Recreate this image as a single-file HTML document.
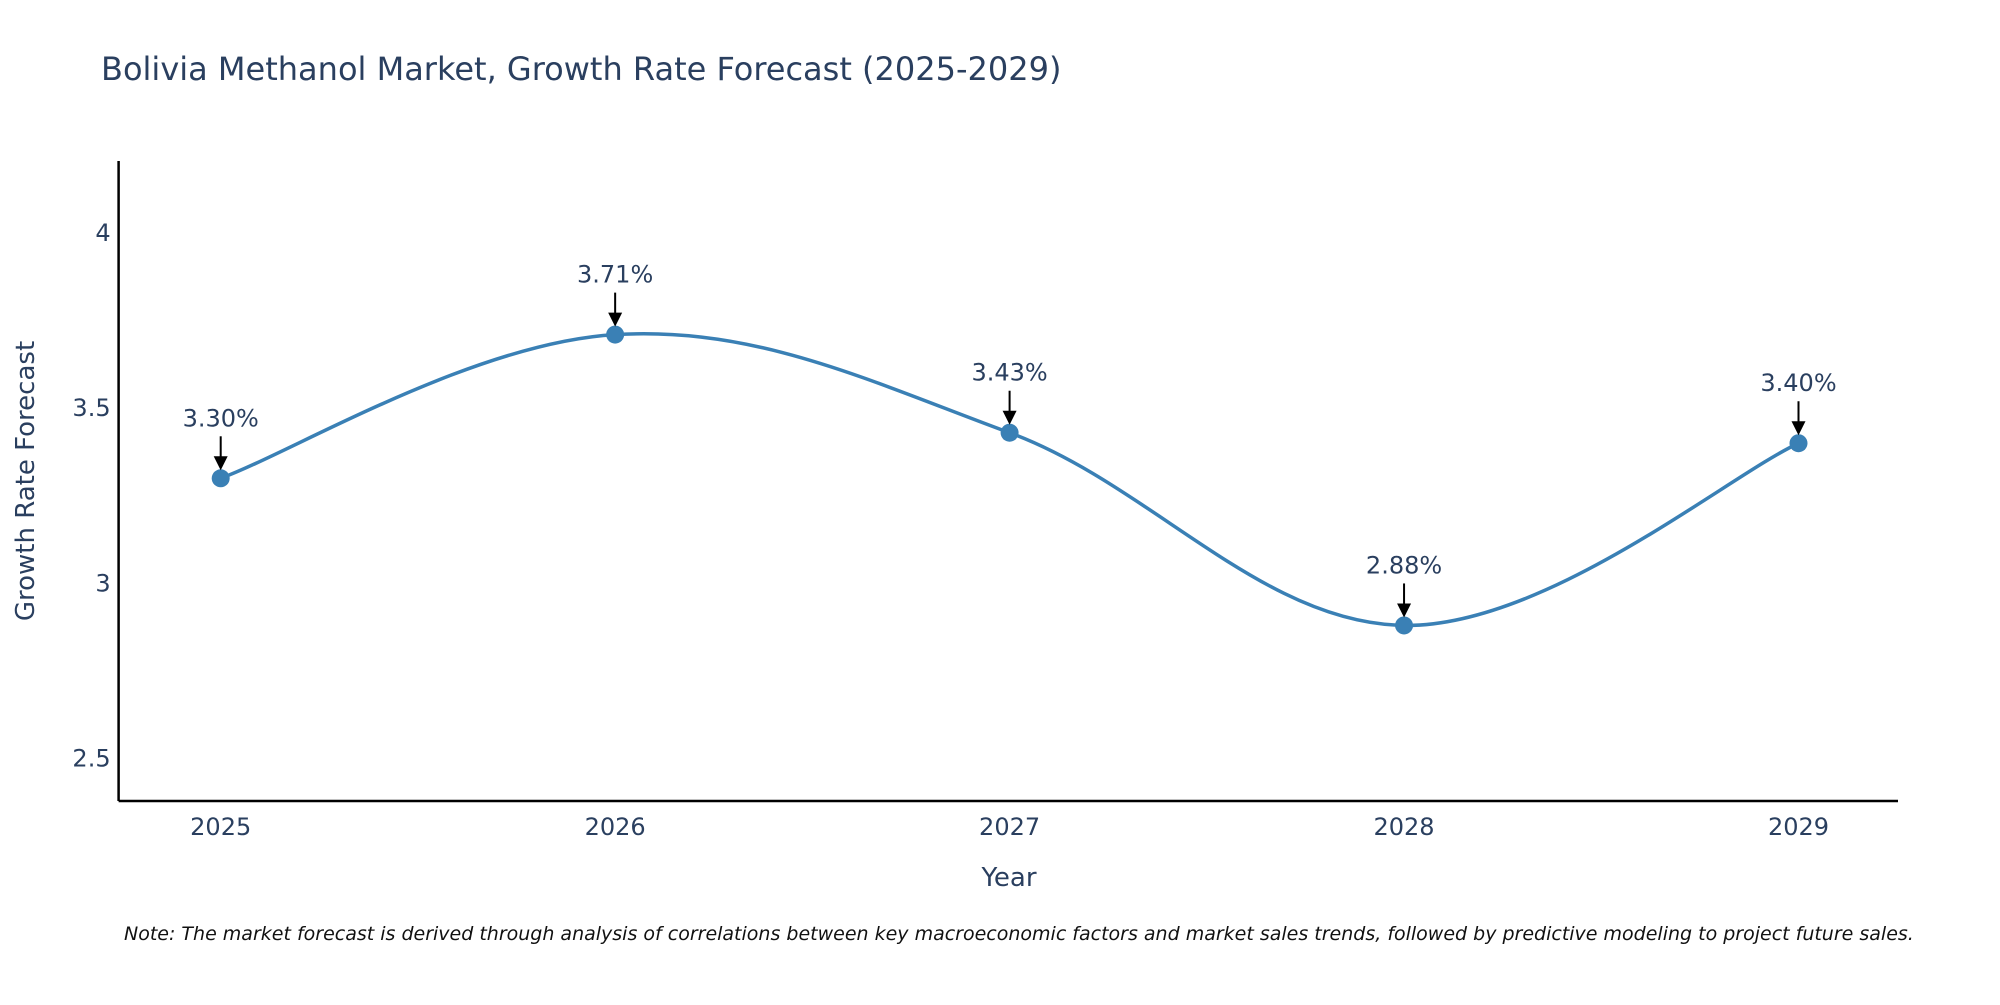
<!DOCTYPE html>
<html><head><meta charset="utf-8"><style>
body{margin:0;background:#fff;}
svg text{font-family:"DejaVu Sans","Liberation Sans",sans-serif;}
</style></head><body>
<svg id="chart" width="2000" height="1000" xmlns="http://www.w3.org/2000/svg">
<text x="101" y="80" font-size="32" fill="#2a3f5f">Bolivia Methanol Market, Growth Rate Forecast (2025-2029)</text>
<g id="axes"></g>
<g id="marks"></g>
<text x="1009" y="886" font-size="26" fill="#2a3f5f" text-anchor="middle">Year</text>
<text transform="translate(34,481) rotate(-90)" font-size="26" fill="#2a3f5f" text-anchor="middle">Growth Rate Forecast</text>
<text x="124" y="940" font-size="19" font-style="italic" fill="#111">Note: The market forecast is derived through analysis of correlations between key macroeconomic factors and market sales trends, followed by predictive modeling to project future sales.</text>
</svg>
<script>
const categories=["2025","2026","2027","2028","2029"];
const values=[3.30,3.71,3.43,2.88,3.40];
const labels=["3.30%","3.71%","3.43%","2.88%","3.40%"];
const yTicks=[2.5,3,3.5,4];
const NS="http://www.w3.org/2000/svg";
const L=118.6,R=1898,T=161,B=801;
const xs=i=>220.7+i*394.45;
const ys=v=>233+(4-v)*350.4;
function mk(tag,attrs,parent){const e=document.createElementNS(NS,tag);for(const k in attrs)e.setAttribute(k,attrs[k]);parent.appendChild(e);return e;}
const ax=document.getElementById('axes'),mg=document.getElementById('marks');
let a=mk('line',{x1:L,y1:T,x2:L,y2:B,stroke:'#000','stroke-width':2.5},ax);


a=mk('line',{x1:L,y1:B,x2:R,y2:B,stroke:'#000','stroke-width':2.5},ax);


yTicks.forEach(t=>{const e=mk('text',{x:L-8,y:ys(t)+8,'font-size':24,fill:'#2a3f5f','text-anchor':'end'},ax);e.textContent=String(t);

});
categories.forEach((c,i)=>{const e=mk('text',{x:xs(i),y:835,'font-size':24,fill:'#2a3f5f','text-anchor':'middle'},ax);e.textContent=c;

});
const pts=values.map((v,i)=>[xs(i),ys(v)]);
let d=`M${pts[0][0]},${pts[0][1]}`;const k=0.18;
for(let i=0;i<pts.length-1;i++){const p0=pts[i-1]||pts[i],p1=pts[i],p2=pts[i+1],p3=pts[i+2]||p2;
const c1=[p1[0]+(p2[0]-p0[0])*k,p1[1]+(p2[1]-p0[1])*k],c2=[p2[0]-(p3[0]-p1[0])*k,p2[1]-(p3[1]-p1[1])*k];
d+=` C${c1[0]},${c1[1]} ${c2[0]},${c2[1]} ${p2[0]},${p2[1]}`;}
const line=mk('path',{d:d,fill:'none',stroke:'#3a80b5','stroke-width':3.5},mg);


pts.forEach((p,i)=>{const c=mk('circle',{cx:p[0],cy:p[1],r:9,fill:'#3a80b5'},mg);


const ar=mk('line',{x1:p[0],y1:p[1]-42,x2:p[0],y2:p[1]-20,stroke:'#000','stroke-width':2},mg);


const h=mk('polygon',{points:`${p[0]-7},${p[1]-22} ${p[0]+7},${p[1]-22} ${p[0]},${p[1]-8}`,fill:'#000'},mg);


const t=mk('text',{x:p[0],y:p[1]-52,'font-size':24,fill:'#2a3f5f','text-anchor':'middle'},mg);t.textContent=labels[i];

});
</script>
</body></html>
